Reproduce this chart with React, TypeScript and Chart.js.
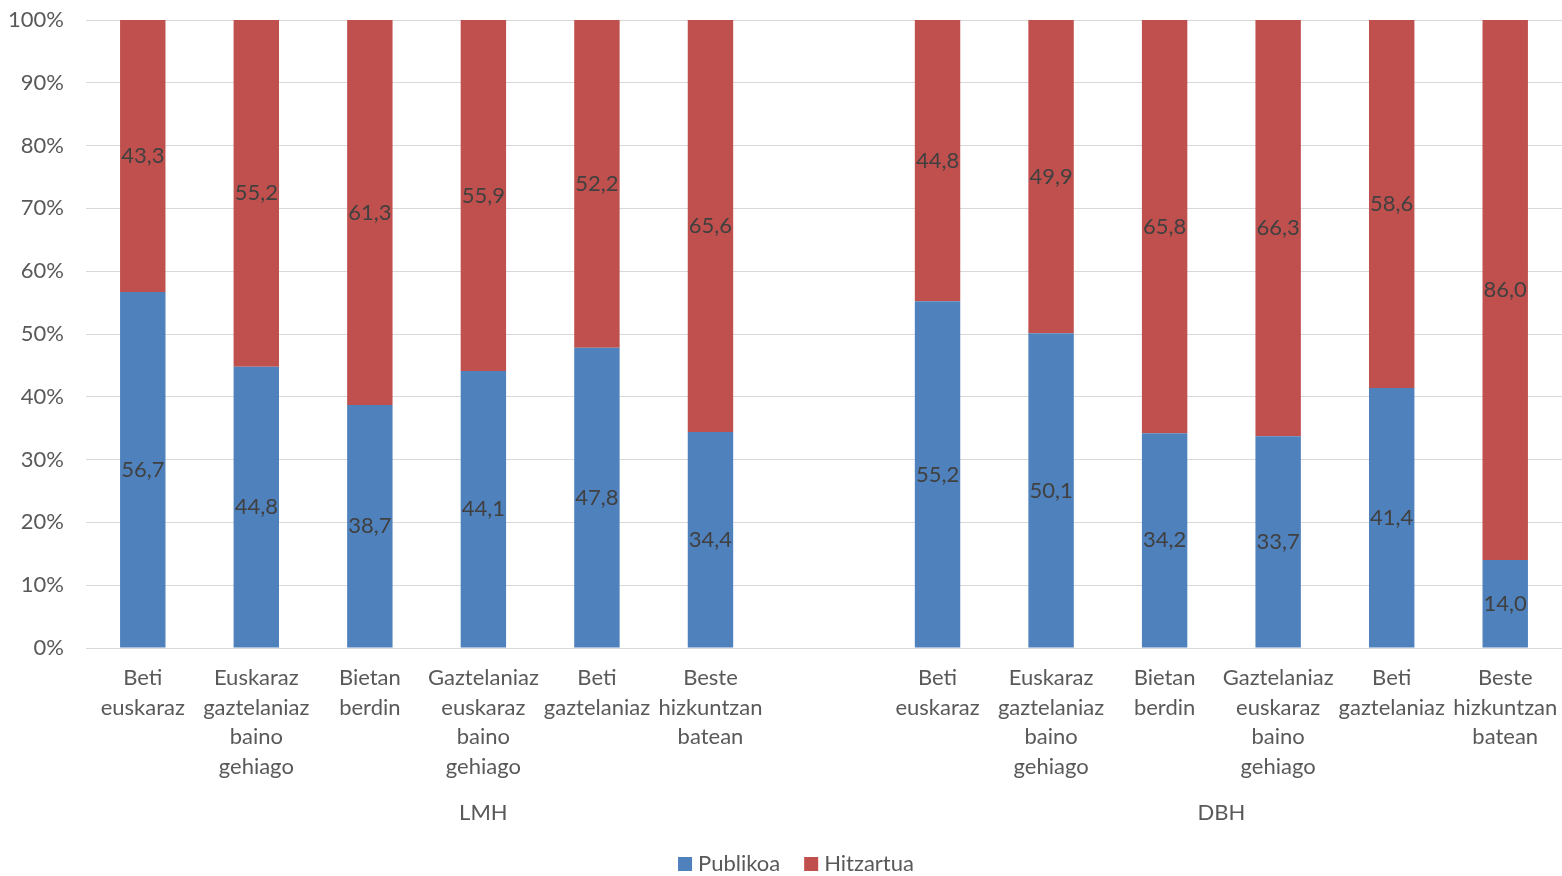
import React, { useEffect, useRef } from "react";
import { Chart, registerables } from "chart.js";

Chart.register(...registerables);

const categories: (string | string[])[] = [
  ["Beti", "euskaraz"],
  ["Euskaraz", "gaztelaniaz", "baino", "gehiago"],
  ["Bietan", "berdin"],
  ["Gaztelaniaz", "euskaraz", "baino", "gehiago"],
  ["Beti", "gaztelaniaz"],
  ["Beste", "hizkuntzan", "batean"],
  "",
  ["Beti", "euskaraz"],
  ["Euskaraz", "gaztelaniaz", "baino", "gehiago"],
  ["Bietan", "berdin"],
  ["Gaztelaniaz", "euskaraz", "baino", "gehiago"],
  ["Beti", "gaztelaniaz"],
  ["Beste", "hizkuntzan", "batean"],
];

const groupLabels = ["LMH", "DBH"];
const groupRanges: [number, number][] = [
  [0, 6],
  [7, 12],
];

const seriesNames = ["Publikoa", "Hitzartua"];
const seriesColors = ["#4F81BD", "#C0504D"];

const publikoa: (number | null)[] = [56.7, 44.8, 38.7, 44.1, 47.8, 34.4, null, 55.2, 50.1, 34.2, 33.7, 41.4, 14.0];
const hitzartua: (number | null)[] = [43.3, 55.2, 61.3, 55.9, 52.2, 65.6, null, 44.8, 49.9, 65.8, 66.3, 58.6, 86.0];

const yTicks = [0, 10, 20, 30, 40, 50, 60, 70, 80, 90, 100];

const FONT = "Lato, 'Open Sans', sans-serif";
const FS = 22;

const labelPlugin = {
  id: "segLabels",
  afterDatasetsDraw(chart: any) {
    const ctx = chart.ctx;
    ctx.save();
    ctx.font = `${FS}px ${FONT}`;
    ctx.fillStyle = "#404040";
    ctx.textAlign = "center";
    ctx.textBaseline = "middle";
    chart.data.datasets.forEach((ds: any, di: number) => {
      const meta = chart.getDatasetMeta(di);
      meta.data.forEach((bar: any, i: number) => {
        const v = ds.data[i];
        if (v == null) return;
        const props = bar.getProps(["x", "y", "base"], true);
        const y = (props.y + props.base) / 2;
        ctx.fillText(v.toFixed(1).replace(".", ","), props.x, y);
      });
    });
    // group labels
    const xs = chart.scales.x;
    ctx.fillStyle = "#595959";
    groupLabels.forEach((g, gi) => {
      const [a, b] = groupRanges[gi];
      const x =
        gi === 0
          ? (xs.getPixelForValue(a) + xs.getPixelForValue(b)) / 2
          : (xs.getPixelForValue(a) + xs.getPixelForValue(b)) / 2;
      ctx.fillText(g, x, chart.chartArea.bottom + 165);
    });
    // legend
    const box = 14;
    const gapBox = 6;
    const gapItem = 24;
    const widths = seriesNames.map((n) => ctx.measureText(n).width);
    const total = widths.reduce((s, w) => s + box + gapBox + w, 0) + gapItem * (seriesNames.length - 1);
    let x = chart.width / 2 + 15 - total / 2;
    const ly = chart.chartArea.bottom + 216;
    ctx.textAlign = "left";
    seriesNames.forEach((n, i) => {
      ctx.fillStyle = seriesColors[i];
      ctx.fillRect(x, ly - box / 2, box, box);
      x += box + gapBox;
      ctx.fillStyle = "#595959";
      ctx.fillText(n, x, ly);
      x += widths[i] + gapItem;
    });
    ctx.restore();
  },
};

export default function App() {
  const ref = useRef<HTMLCanvasElement | null>(null);
  useEffect(() => {
    document.body.style.margin = "0";
    const chart = new Chart(ref.current as HTMLCanvasElement, {
      type: "bar",
      data: {
        labels: categories,
        datasets: [
          {
            label: seriesNames[0],
            data: publikoa,
            backgroundColor: seriesColors[0],
            barPercentage: 0.4,
            categoryPercentage: 1,
          },
          {
            label: seriesNames[1],
            data: hitzartua,
            backgroundColor: seriesColors[1],
            barPercentage: 0.4,
            categoryPercentage: 1,
          },
        ],
      },
      options: {
        animation: false,
        responsive: false,
        maintainAspectRatio: false,
        layout: { padding: { top: 20, right: 0, left: 0, bottom: 0 } },
        plugins: {
          legend: { display: false },
          tooltip: { enabled: false },
        },
        scales: {
          x: {
            stacked: true,
            grid: { display: false, drawTicks: false },
            border: { color: "#D9D9D9" },
            ticks: {
              autoSkip: false,
              maxRotation: 0,
              minRotation: 0,
              padding: 15,
              color: "#595959",
              font: { size: FS, family: FONT, lineHeight: 1.35 },
            },
            afterFit(scale: any) {
              scale.height = 228;
              scale.paddingLeft = 0;
              scale.paddingRight = 0;
            },
          },
          y: {
            stacked: true,
            min: 0,
            max: 100,
            afterBuildTicks(scale: any) {
              scale.ticks = yTicks.map((v) => ({ value: v }));
            },
            grid: { color: "#D9D9D9", drawTicks: false },
            border: { display: false },
            ticks: {
              padding: 22,
              color: "#595959",
              font: { size: FS, family: FONT },
              callback: (v: any) => v + "%",
            },
            afterFit(scale: any) {
              scale.width = 86;
              scale.paddingTop = 0;
              scale.paddingBottom = 0;
            },
          },
        },
      },
      plugins: [labelPlugin],
    });
    return () => chart.destroy();
  }, []);
  return (
    <div style={{ position: "absolute", left: 0, top: 0, width: 1562, height: 876 }}>
      <canvas ref={ref} width={1562} height={876} style={{ width: 1562, height: 876 }} />
    </div>
  );
}
